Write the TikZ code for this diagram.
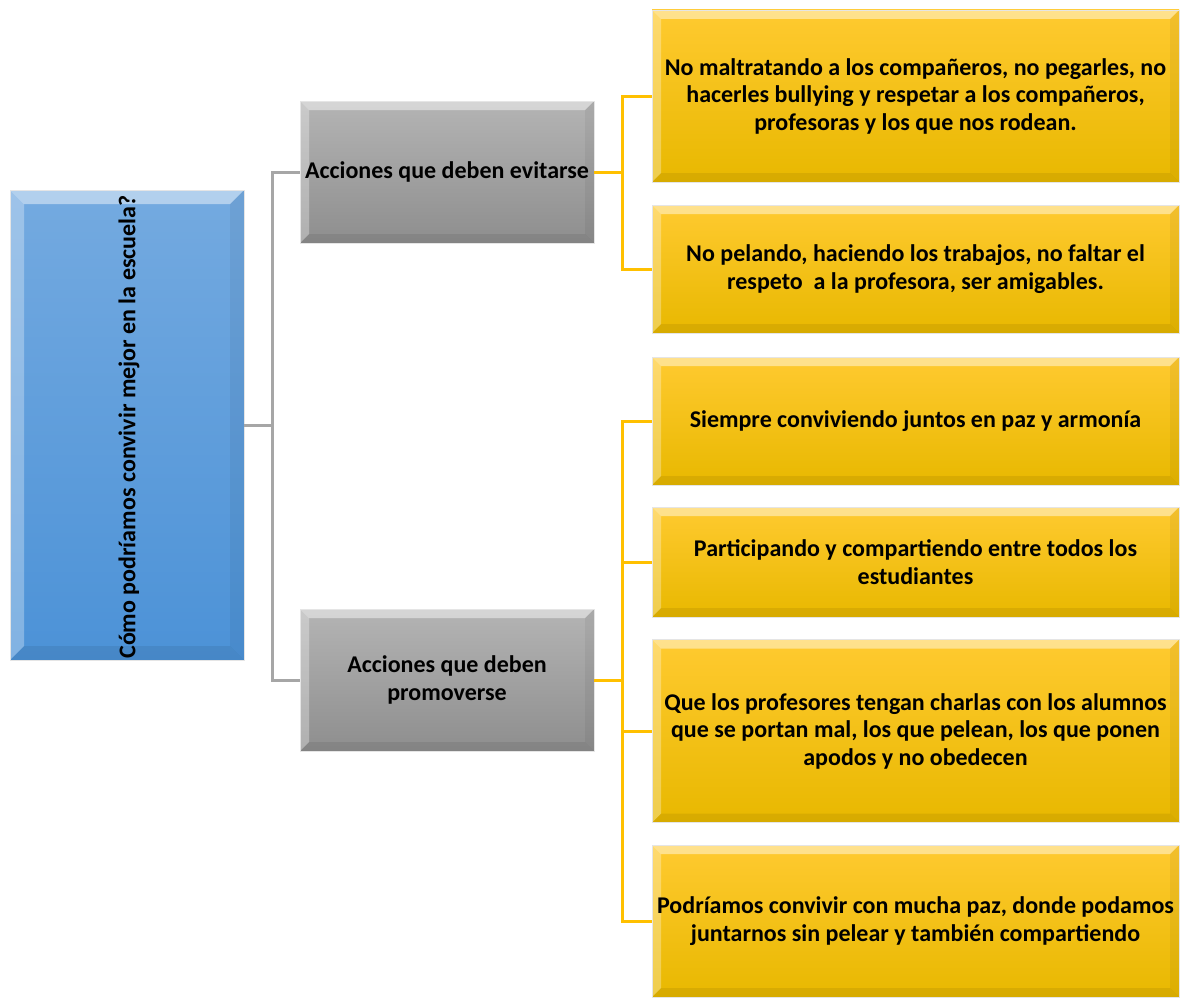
\documentclass[tikz,border=0pt]{standalone}
\usepackage{fontspec}
\setmainfont{Carlito}
\usepackage{xcolor}

\definecolor{azulA}{RGB}{116,170,224}
\definecolor{azulB}{RGB}{76,146,215}
\definecolor{grisA}{RGB}{180,180,180}
\definecolor{grisB}{RGB}{142,142,142}
\definecolor{amarA}{RGB}{255,202,48}
\definecolor{amarB}{RGB}{232,184,0}
\definecolor{lineagris}{RGB}{166,166,166}
\definecolor{lineaamar}{RGB}{255,192,0}

\newcommand{\bisel}[1]{%
	\fill[white,opacity=.45] (path picture bounding box.north west) -- (path picture bounding box.north east)
		-- ([xshift=-#1,yshift=-#1]path picture bounding box.north east) -- ([xshift=#1,yshift=-#1]path picture bounding box.north west) -- cycle;
	\fill[white,opacity=.30] (path picture bounding box.north west) -- ([xshift=#1,yshift=-#1]path picture bounding box.north west)
		-- ([xshift=#1,yshift=#1]path picture bounding box.south west) -- (path picture bounding box.south west) -- cycle;
	\fill[black,opacity=.05] (path picture bounding box.north east) -- ([xshift=-#1,yshift=-#1]path picture bounding box.north east)
		-- ([xshift=-#1,yshift=#1]path picture bounding box.south east) -- (path picture bounding box.south east) -- cycle;
	\fill[black,opacity=.07] (path picture bounding box.south west) -- ([xshift=#1,yshift=#1]path picture bounding box.south west)
		-- ([xshift=-#1,yshift=#1]path picture bounding box.south east) -- (path picture bounding box.south east) -- cycle;
}

\tikzset{
	texto/.style={font=\fontsize{24}{27.5}\selectfont\bfseries},
	caja/.style={rectangle, inner sep=2pt, align=center, texto, draw=white!60!lightgray, line width=.6pt,
		path picture={\bisel{#1}}},
	caja/.default=9pt,
	azul/.style={caja=14pt, top color=azulA, bottom color=azulB, minimum width=234pt, minimum height=470pt},
	gris/.style={caja=9pt, top color=grisA, bottom color=grisB, minimum width=294pt, minimum height=142pt},
	amar/.style={caja=9pt, top color=amarA, bottom color=amarB, minimum width=527pt},
	ramagris/.style={draw=lineagris, line width=3pt},
	ramaamar/.style={draw=lineaamar, line width=3pt}
}

\begin{document}
\begin{tikzpicture}[x=1pt,y=-1pt]
	\useasboundingbox (0,0) rectangle (1180,998);

	% pregunta central
	\node[azul] (pregunta) at (127,425) {};
	\node[rotate=90, texto] (preguntatxt) at (129,427)
		{Cómo podríamos convivir mejor en la escuela?};

	\node[gris] (evitar) at (447,172) {Acciones que deben evitarse};
	\node[gris] (promover) at (447,680) {Acciones que deben\\promoverse};

	\node[amar, minimum height=172pt] (e1) at (915.5,96)
		{No maltratando a los compañeros, no pegarles, no\\hacerles bullying y respetar a los compañeros,\\profesoras y los que nos rodean.};
	\node[amar, minimum height=128pt] (e2) at (915.5,269)
		{No pelando, haciendo los trabajos, no faltar el\\respeto~ a la profesora, ser amigables.};

	\node[amar, minimum height=128pt] (p1) at (915.5,421)
		{Siempre conviviendo juntos en paz y armonía};
	\node[amar, minimum height=110pt] (p2) at (915.5,562)
		{Participando y compartiendo entre todos los\\estudiantes};
	\node[amar, minimum height=183pt] (p3) at (915.5,731)
		{Que los profesores tengan charlas con los alumnos\\que se portan mal, los que pelean, los que ponen\\apodos y no obedecen};
	\node[amar, minimum height=152pt] (p4) at (915.5,921)
		{Podríamos convivir con mucha paz, donde podamos\\juntarnos sin pelear y también compartiendo};

	% conectores
	\coordinate (tronco) at (272,425);
	\coordinate (ramaE) at (622,172);
	\coordinate (ramaP) at (622,680);

	\draw[ramagris] (pregunta.east) -- (tronco) |- (evitar.west);
	\draw[ramagris] (tronco) |- (promover.west);

	\draw[ramaamar] (evitar.east) -- (ramaE) |- (e1.west);
	\draw[ramaamar] (ramaE) |- (e2.west);

	\draw[ramaamar] (promover.east) -- (ramaP) |- (p1.west);
	\draw[ramaamar] (ramaP) |- (p2.west);
	\draw[ramaamar] (ramaP) |- (p3.west);
	\draw[ramaamar] (ramaP) |- (p4.west);
\end{tikzpicture}
\end{document}
